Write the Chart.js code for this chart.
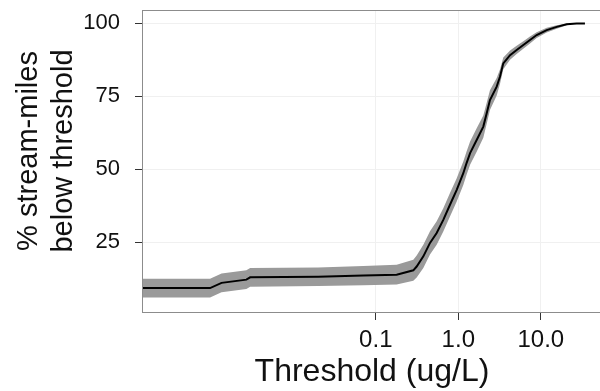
<!DOCTYPE html>
<html>
<head>
<meta charset="utf-8">
<script src="https://cdn.jsdelivr.net/npm/chart.js@4/dist/chart.umd.min.js"></script>
<style>
  html, body { margin: 0; padding: 0; background: #fff; overflow: hidden; }
  #wrap { width: 603px; height: 391px; }
</style>
</head>
<body>
<div id="wrap"><canvas id="cdfChart" width="603" height="391"></canvas></div>
<script>
// threshold (ug/L) vs % of stream-miles below it
const thresholds = [0.000147, 0.00098, 0.00135, 0.0027, 0.003, 0.02, 0.0707, 0.179, 0.285,
  0.313, 0.377, 0.454, 0.547, 0.658, 0.793, 0.957, 1.15, 1.26, 1.39, 1.67, 2.01, 2.21,
  2.42, 2.92, 3.2, 3.51, 4.24, 5.1, 6.14, 7.4, 8.91, 11.8, 15.6, 20.6, 27.2, 34.3];
const pctBelow = [9.2, 9.2, 11.0, 12.1, 12.9, 13.1, 13.5, 13.8, 15.3,
  16.6, 20.1, 24.7, 28.1, 32.6, 37.8, 42.9, 48.6, 52.1, 55.5, 60.0, 64.6, 69.2,
  73.7, 78.3, 81.7, 86.3, 89.1, 90.9, 92.6, 94.3, 96.0, 97.7, 98.8, 99.7, 100, 100];
const bandHalf = [3.2, 3.2, 3.2, 3.2, 3.2, 3.2, 3.3, 3.4, 3.6,
  3.8, 4.0, 4.0, 4.0, 4.0, 4.0, 4.0, 4.0, 4.0, 4.0, 4.0, 3.8, 3.6,
  3.4, 3.0, 2.5, 2.0, 1.6, 1.4, 1.3, 1.2, 1.0, 0.8, 0.6, 0.3, 0, 0];
const xTickValues = [0.1, 1, 10];
const xTickLabels = ["0.1", "1.0", "10.0"];
const yTickValues = [25, 50, 75, 100];
const yTitleLines = ["% stream-miles", "below threshold"];

const FONT = "'Liberation Sans', Arial, sans-serif";

const linePoints = thresholds.map((t, i) => ({ x: t, y: pctBelow[i] }));
const upperPoints = thresholds.map((t, i) => ({ x: t, y: Math.min(100, pctBelow[i] + bandHalf[i]) }));
const lowerPoints = thresholds.map((t, i) => ({ x: t, y: pctBelow[i] - bandHalf[i] }));

// plot frame (top edge is not drawn by the axes)
const framePlugin = {
  id: "frame",
  afterDatasetsDraw(chart) {
    const { ctx, chartArea } = chart;
    ctx.save();
    ctx.strokeStyle = "#8c8c8c";
    ctx.lineWidth = 1;
    ctx.strokeRect(chartArea.left + 0.5, chartArea.top + 0.5,
      chartArea.right - chartArea.left, chartArea.bottom - chartArea.top);
    ctx.restore();
  },
};

// two-line rotated y title, placed a bit above the panel centre like the original
const yTitlePlugin = {
  id: "yTitle",
  afterDraw(chart) {
    const { ctx } = chart;
    const baselines = [37, 72];
    ctx.save();
    ctx.fillStyle = "#111";
    ctx.font = "29px " + FONT;
    ctx.textAlign = "center";
    ctx.textBaseline = "alphabetic";
    yTitleLines.forEach((line, i) => {
      ctx.save();
      ctx.translate(baselines[i], 151);
      ctx.rotate(-Math.PI / 2);
      ctx.fillText(line, 0, 0);
      ctx.restore();
    });
    ctx.restore();
  },
};

const ctx = document.getElementById("cdfChart").getContext("2d");
new Chart(ctx, {
  type: "line",
  data: {
    datasets: [
      {
        label: "estimate",
        data: linePoints,
        borderColor: "#000",
        borderWidth: 2,
        pointRadius: 0,
        fill: false,
        tension: 0,
      },
      {
        label: "upper",
        data: upperPoints,
        borderWidth: 0,
        pointRadius: 0,
        backgroundColor: "#9a9a9a",
        fill: "+1",
        tension: 0,
      },
      {
        label: "lower",
        data: lowerPoints,
        borderWidth: 0,
        pointRadius: 0,
        fill: false,
        tension: 0,
      },
    ],
  },
  options: {
    responsive: false,
    animation: false,
    layout: { padding: { top: 10, right: 1, left: 0, bottom: 0 } },
    plugins: {
      legend: { display: false },
      tooltip: { enabled: false },
    },
    scales: {
      x: {
        type: "logarithmic",
        min: 0.0001466,
        max: 55.2,
        afterFit: (scale) => {
          scale.height = 79;
          scale.paddingLeft = 0;
          scale.paddingRight = 0;
        },
        afterBuildTicks: (scale) => {
          scale.ticks = xTickValues.map(v => ({ value: v }));
        },
        ticks: {
          autoSkip: false,
          maxRotation: 0,
          padding: 6,
          color: "#111",
          font: { family: FONT, size: 24 },
          callback: (value) => xTickLabels[xTickValues.indexOf(value)] ?? "",
        },
        grid: {
          color: "#f0f0f0",
          tickColor: "#333",
          tickLength: 8,
        },
        border: { display: true, color: "#8c8c8c" },
        title: {
          display: true,
          text: "Threshold (ug/L)",
          color: "#111",
          font: { family: FONT, size: 32 },
          padding: { top: 0, bottom: 0 },
        },
      },
      y: {
        type: "linear",
        min: 1,
        max: 104.6,
        afterFit: (scale) => {
          scale.width = 142;
          scale.paddingTop = 0;
          scale.paddingBottom = 0;
        },
        afterBuildTicks: (scale) => {
          scale.ticks = yTickValues.map(v => ({ value: v }));
        },
        ticks: {
          padding: 15,
          color: "#111",
          font: { family: FONT, size: 22 },
        },
        grid: {
          color: "#f0f0f0",
          tickColor: "#333",
          tickLength: 7,
        },
        border: { display: true, color: "#8c8c8c" },
        title: { display: false },
      },
    },
  },
  plugins: [framePlugin, yTitlePlugin],
});
</script>
</body>
</html>
